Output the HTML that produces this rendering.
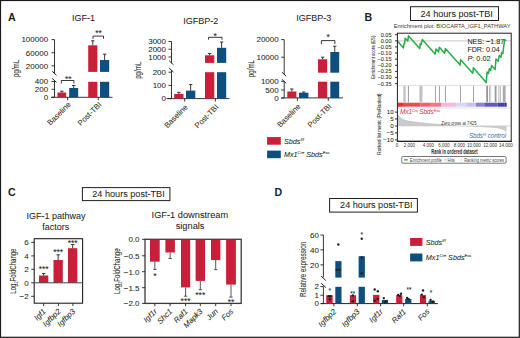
<!DOCTYPE html>
<html><head><meta charset="utf-8"><style>
html,body{margin:0;padding:0;background:#fff;}
#f{position:relative;width:520px;height:338px;overflow:hidden;background:#fff;}
#f svg{position:absolute;left:0;top:0;}
text{font-family:"Liberation Sans",sans-serif;fill:#231f20;stroke:#231f20;stroke-width:0.05px;}
</style></head><body><div id="f">
<svg width="520" height="338" viewBox="0 0 520 338">
<rect x="0.5" y="0.5" width="518.8" height="336.8" fill="none" stroke="#1a1a1a" stroke-width="1.2"/>
<text x="83.4" y="21.3" font-size="9" text-anchor="middle">IGF-1</text>
<line x1="54.5" y1="39.6" x2="54.5" y2="73.3" stroke="#231f20" stroke-width="0.9"/>
<line x1="54.5" y1="80.4" x2="54.5" y2="97.3" stroke="#231f20" stroke-width="0.9"/>
<line x1="52.2" y1="71.3" x2="56.5" y2="75.3" stroke="#231f20" stroke-width="1.0"/>
<line x1="52.2" y1="78.4" x2="56.5" y2="82.4" stroke="#231f20" stroke-width="1.0"/>
<line x1="51.5" y1="39.6" x2="54.5" y2="39.6" stroke="#231f20" stroke-width="0.9"/>
<text x="48.1" y="42.48" font-size="8" text-anchor="end">100000</text>
<line x1="51.5" y1="52.7" x2="54.5" y2="52.7" stroke="#231f20" stroke-width="0.9"/>
<text x="48.1" y="55.58" font-size="8" text-anchor="end">60000</text>
<line x1="51.5" y1="65.8" x2="54.5" y2="65.8" stroke="#231f20" stroke-width="0.9"/>
<text x="48.1" y="68.68" font-size="8" text-anchor="end">20000</text>
<line x1="51.5" y1="81.5" x2="54.5" y2="81.5" stroke="#231f20" stroke-width="0.9"/>
<text x="48.1" y="84.38" font-size="8" text-anchor="end">400</text>
<line x1="51.5" y1="89.3" x2="54.5" y2="89.3" stroke="#231f20" stroke-width="0.9"/>
<text x="48.1" y="92.18" font-size="8" text-anchor="end">200</text>
<line x1="51.5" y1="97.3" x2="54.5" y2="97.3" stroke="#231f20" stroke-width="0.9"/>
<text x="48.1" y="100.18" font-size="8" text-anchor="end">0</text>
<line x1="51" y1="97.3" x2="112.5" y2="97.3" stroke="#231f20" stroke-width="0.9"/>
<rect x="57.5" y="92.5" width="8.7" height="4.8" fill="#c8203a"/>
<line x1="61.85" y1="92.5" x2="61.85" y2="91.2" stroke="#231f20" stroke-width="0.9"/>
<line x1="60.15" y1="91.2" x2="63.55" y2="91.2" stroke="#231f20" stroke-width="0.9"/>
<rect x="69.2" y="88" width="9.0" height="9.3" fill="#0f4f7f"/>
<line x1="73.7" y1="88" x2="73.7" y2="85.5" stroke="#231f20" stroke-width="0.9"/>
<line x1="72.0" y1="85.5" x2="75.4" y2="85.5" stroke="#231f20" stroke-width="0.9"/>
<rect x="88.2" y="45.3" width="9.2" height="26.6" fill="#c8203a"/>
<rect x="88.2" y="81.8" width="9.2" height="15.5" fill="#c8203a"/>
<line x1="92.8" y1="45.3" x2="92.8" y2="40.8" stroke="#231f20" stroke-width="0.9"/>
<line x1="91.1" y1="40.8" x2="94.5" y2="40.8" stroke="#231f20" stroke-width="0.9"/>
<rect x="100" y="60" width="9.2" height="11.9" fill="#0f4f7f"/>
<rect x="100" y="81.8" width="9.2" height="15.5" fill="#0f4f7f"/>
<line x1="104.6" y1="60" x2="104.6" y2="54.2" stroke="#231f20" stroke-width="0.9"/>
<line x1="102.9" y1="54.2" x2="106.3" y2="54.2" stroke="#231f20" stroke-width="0.9"/>
<path d="M93,38.8 V36.1 H103.5 V38.8" fill="none" stroke="#231f20" stroke-width="0.9"/>
<text x="98.55" y="36.19" font-size="8.6" text-anchor="middle">**</text>
<path d="M61.3,83.5 V80.5 H73.9 V83.5" fill="none" stroke="#231f20" stroke-width="0.9"/>
<text x="68.3" y="81.79" font-size="8.6" text-anchor="middle">**</text>
<line x1="67.6" y1="97.3" x2="67.6" y2="100.3" stroke="#231f20" stroke-width="0.9"/>
<text transform="translate(71.2,105.0) rotate(-45)" font-size="7.7" text-anchor="end">Baseline</text>
<line x1="98.3" y1="97.3" x2="98.3" y2="100.3" stroke="#231f20" stroke-width="0.9"/>
<text transform="translate(101.9,105.0) rotate(-45)" font-size="7.7" text-anchor="end">Post-TBI</text>
<text transform="translate(19.3,68.4) rotate(-90)" font-size="8.3" text-anchor="middle" textLength="17.3" lengthAdjust="spacingAndGlyphs">pg/mL</text>
<text x="200.7" y="24.2" font-size="9" text-anchor="middle">IGFBP-2</text>
<line x1="171.5" y1="41.5" x2="171.5" y2="62.8" stroke="#231f20" stroke-width="0.9"/>
<line x1="171.5" y1="70.2" x2="171.5" y2="98.6" stroke="#231f20" stroke-width="0.9"/>
<line x1="169.2" y1="60.8" x2="173.5" y2="64.8" stroke="#231f20" stroke-width="1.0"/>
<line x1="169.2" y1="68.1" x2="173.5" y2="72.1" stroke="#231f20" stroke-width="1.0"/>
<line x1="168.5" y1="41.5" x2="171.5" y2="41.5" stroke="#231f20" stroke-width="0.9"/>
<text x="166.0" y="44.38" font-size="8" text-anchor="end">3000</text>
<line x1="168.5" y1="49.2" x2="171.5" y2="49.2" stroke="#231f20" stroke-width="0.9"/>
<text x="166.0" y="52.08" font-size="8" text-anchor="end">2000</text>
<line x1="168.5" y1="57" x2="171.5" y2="57" stroke="#231f20" stroke-width="0.9"/>
<text x="166.0" y="59.88" font-size="8" text-anchor="end">1000</text>
<line x1="168.5" y1="72.2" x2="171.5" y2="72.2" stroke="#231f20" stroke-width="0.9"/>
<text x="166.0" y="75.08" font-size="8" text-anchor="end">200</text>
<line x1="168.5" y1="85.4" x2="171.5" y2="85.4" stroke="#231f20" stroke-width="0.9"/>
<text x="166.0" y="88.28" font-size="8" text-anchor="end">100</text>
<line x1="168.5" y1="98.6" x2="171.5" y2="98.6" stroke="#231f20" stroke-width="0.9"/>
<text x="166.0" y="101.48" font-size="8" text-anchor="end">0</text>
<line x1="166.5" y1="98.6" x2="229.4" y2="98.6" stroke="#231f20" stroke-width="0.9"/>
<rect x="174.2" y="93.9" width="9.3" height="4.7" fill="#c8203a"/>
<line x1="178.85" y1="93.9" x2="178.85" y2="92.3" stroke="#231f20" stroke-width="0.9"/>
<line x1="177.15" y1="92.3" x2="180.55" y2="92.3" stroke="#231f20" stroke-width="0.9"/>
<rect x="186" y="90.6" width="9.3" height="8.0" fill="#0f4f7f"/>
<line x1="190.65" y1="90.6" x2="190.65" y2="84.6" stroke="#231f20" stroke-width="0.9"/>
<line x1="188.95" y1="84.6" x2="192.35" y2="84.6" stroke="#231f20" stroke-width="0.9"/>
<rect x="205" y="55.3" width="9.3" height="7.6" fill="#c8203a"/>
<rect x="205" y="72.2" width="9.3" height="26.4" fill="#c8203a"/>
<line x1="209.65" y1="55.3" x2="209.65" y2="53.5" stroke="#231f20" stroke-width="0.9"/>
<line x1="207.95" y1="53.5" x2="211.35" y2="53.5" stroke="#231f20" stroke-width="0.9"/>
<rect x="217" y="47.8" width="9.2" height="15.1" fill="#0f4f7f"/>
<rect x="217" y="72.2" width="9.2" height="26.4" fill="#0f4f7f"/>
<line x1="221.6" y1="47.8" x2="221.6" y2="42" stroke="#231f20" stroke-width="0.9"/>
<line x1="219.9" y1="42" x2="223.3" y2="42" stroke="#231f20" stroke-width="0.9"/>
<path d="M208.5,39.6 V37.3 H222 V39.6" fill="none" stroke="#231f20" stroke-width="0.9"/>
<text x="215.25" y="38.79" font-size="8.6" text-anchor="middle">*</text>
<line x1="184.7" y1="98.6" x2="184.7" y2="101.6" stroke="#231f20" stroke-width="0.9"/>
<text transform="translate(188.3,107.6) rotate(-45)" font-size="7.7" text-anchor="end">Baseline</text>
<line x1="215.4" y1="98.6" x2="215.4" y2="101.6" stroke="#231f20" stroke-width="0.9"/>
<text transform="translate(219.0,107.6) rotate(-45)" font-size="7.7" text-anchor="end">Post-TBI</text>
<text transform="translate(141.3,70.2) rotate(-90)" font-size="8.3" text-anchor="middle" textLength="17.3" lengthAdjust="spacingAndGlyphs">pg/mL</text>
<text x="313.7" y="21.4" font-size="9" text-anchor="middle">IGFBP-3</text>
<line x1="284.2" y1="39.6" x2="284.2" y2="74.3" stroke="#231f20" stroke-width="0.9"/>
<line x1="284.2" y1="81.3" x2="284.2" y2="97.9" stroke="#231f20" stroke-width="0.9"/>
<line x1="281.9" y1="72.2" x2="286.2" y2="76.2" stroke="#231f20" stroke-width="1.0"/>
<line x1="281.9" y1="79.3" x2="286.2" y2="83.3" stroke="#231f20" stroke-width="1.0"/>
<line x1="281.2" y1="39.6" x2="284.2" y2="39.6" stroke="#231f20" stroke-width="0.9"/>
<text x="278.7" y="42.48" font-size="8" text-anchor="end">20000</text>
<line x1="281.2" y1="57.2" x2="284.2" y2="57.2" stroke="#231f20" stroke-width="0.9"/>
<text x="278.7" y="60.08" font-size="8" text-anchor="end">10000</text>
<line x1="281.2" y1="81.3" x2="284.2" y2="81.3" stroke="#231f20" stroke-width="0.9"/>
<text x="278.7" y="84.18" font-size="8" text-anchor="end">1000</text>
<line x1="281.2" y1="90" x2="284.2" y2="90" stroke="#231f20" stroke-width="0.9"/>
<text x="278.7" y="92.88" font-size="8" text-anchor="end">500</text>
<line x1="281.2" y1="98.1" x2="284.2" y2="98.1" stroke="#231f20" stroke-width="0.9"/>
<text x="278.7" y="100.98" font-size="8" text-anchor="end">0</text>
<line x1="281.2" y1="97.9" x2="343" y2="97.9" stroke="#231f20" stroke-width="0.9"/>
<rect x="287.3" y="91.5" width="9.1" height="6.6" fill="#c8203a"/>
<line x1="291.85" y1="91.5" x2="291.85" y2="89" stroke="#231f20" stroke-width="0.9"/>
<line x1="290.15" y1="89" x2="293.55" y2="89" stroke="#231f20" stroke-width="0.9"/>
<rect x="299" y="92.7" width="9.4" height="5.4" fill="#0f4f7f"/>
<line x1="303.7" y1="92.7" x2="303.7" y2="92" stroke="#231f20" stroke-width="0.9"/>
<line x1="302.0" y1="92" x2="305.4" y2="92" stroke="#231f20" stroke-width="0.9"/>
<rect x="318" y="59.3" width="9.2" height="13.4" fill="#c8203a"/>
<rect x="318" y="81.7" width="9.2" height="16.4" fill="#c8203a"/>
<line x1="322.6" y1="59.3" x2="322.6" y2="57.2" stroke="#231f20" stroke-width="0.9"/>
<line x1="320.9" y1="57.2" x2="324.3" y2="57.2" stroke="#231f20" stroke-width="0.9"/>
<rect x="330.3" y="52" width="8.9" height="20.7" fill="#0f4f7f"/>
<rect x="330.3" y="81.7" width="8.9" height="16.4" fill="#0f4f7f"/>
<line x1="334.75" y1="52" x2="334.75" y2="46.2" stroke="#231f20" stroke-width="0.9"/>
<line x1="333.05" y1="46.2" x2="336.45" y2="46.2" stroke="#231f20" stroke-width="0.9"/>
<path d="M321.4,44 V40.6 H334.9 V44" fill="none" stroke="#231f20" stroke-width="0.9"/>
<text x="328.15" y="39.79" font-size="8.6" text-anchor="middle">*</text>
<line x1="297.4" y1="97.9" x2="297.4" y2="100.9" stroke="#231f20" stroke-width="0.9"/>
<text transform="translate(301.0,106.9) rotate(-45)" font-size="7.7" text-anchor="end">Baseline</text>
<line x1="328.3" y1="97.9" x2="328.3" y2="100.9" stroke="#231f20" stroke-width="0.9"/>
<text transform="translate(331.9,106.9) rotate(-45)" font-size="7.7" text-anchor="end">Post-TBI</text>
<text transform="translate(253.5,68.6) rotate(-90)" font-size="8.3" text-anchor="middle" textLength="17.3" lengthAdjust="spacingAndGlyphs">pg/mL</text>
<rect x="267.1" y="137.1" width="13.7" height="7.6" fill="#c8203a"/>
<rect x="267.1" y="150.6" width="13.7" height="7.6" fill="#0f4f7f"/>
<text x="284" y="144.2" font-size="7.2" font-style="italic">Sbds<tspan font-size="4.18" dy="-2.8">f/f</tspan></text>
<text x="284" y="156.8" font-size="7.2" font-style="italic">Mx1<tspan font-size="4.18" dy="-2.8">Cre</tspan><tspan dy="2.8"> Sbds</tspan><tspan font-size="4.18" dy="-2.8">Exc</tspan></text>
<text x="7.9" y="21.1" font-size="10.6" font-weight="bold" stroke="#231f20" stroke-width="0.35">A</text>
<text x="364.5" y="20.9" font-size="10.6" font-weight="bold" stroke="#231f20" stroke-width="0.35">B</text>
<text x="7.9" y="196.3" font-size="10.6" font-weight="bold" stroke="#231f20" stroke-width="0.35">C</text>
<text x="274.6" y="196.4" font-size="10.6" font-weight="bold" stroke="#231f20" stroke-width="0.35">D</text>
<rect x="410.5" y="6.7" width="88.0" height="13.8" fill="none" stroke="#231f20" stroke-width="1"/>
<text x="420.5" y="17.1" font-size="9.2" textLength="72.4" lengthAdjust="spacingAndGlyphs">24 hours post-TBI</text>
<rect x="82.4" y="187.6" width="87.5" height="13.0" fill="none" stroke="#231f20" stroke-width="1"/>
<text x="92.3" y="197.3" font-size="9.2" textLength="72.4" lengthAdjust="spacingAndGlyphs">24 hours post-TBI</text>
<rect x="329.6" y="198.5" width="87.8" height="13.6" fill="none" stroke="#231f20" stroke-width="1"/>
<text x="340.1" y="208.3" font-size="9.2" textLength="72.4" lengthAdjust="spacingAndGlyphs">24 hours post-TBI</text>
<text x="393.7" y="28.4" font-size="5.9" textLength="116.8" lengthAdjust="spacingAndGlyphs" style="fill:#3a3a3a;stroke:none">Enrichment plot: BIOCARTA_IGF1_PATHWAY</text>
<line x1="397.4" y1="40.8" x2="511.2" y2="40.8" stroke="#d4d4d4" stroke-width="1.2"/>
<line x1="397.4" y1="85.4" x2="511.2" y2="85.4" stroke="#d8d8d8" stroke-width="0.8"/>
<line x1="397.4" y1="108" x2="511.2" y2="108" stroke="#d8d8d8" stroke-width="0.8"/>
<rect x="403.3" y="85.8" width="2.4" height="16.4" fill="#c4c4c4"/>
<rect x="407.9" y="85.8" width="1.0" height="16.4" fill="#9a9a9a"/>
<rect x="419.2" y="85.8" width="3.4" height="16.4" fill="#d0d0d0"/>
<rect x="420.3" y="85.8" width="1.2" height="16.4" fill="#b8b8b8"/>
<rect x="434.95" y="85.8" width="0.9" height="16.4" fill="#999"/>
<rect x="438.95" y="85.8" width="0.9" height="16.4" fill="#999"/>
<rect x="444.95" y="85.8" width="0.9" height="16.4" fill="#999"/>
<rect x="459.95" y="85.8" width="0.9" height="16.4" fill="#999"/>
<rect x="473.05" y="85.8" width="0.9" height="16.4" fill="#999"/>
<rect x="486.3" y="85.8" width="1.6" height="16.4" fill="#8a8a8a"/>
<rect x="489.15" y="85.8" width="0.9" height="16.4" fill="#aaa"/>
<rect x="490.35" y="85.8" width="0.9" height="16.4" fill="#ccc"/>
<rect x="494.7" y="85.8" width="1.8" height="16.4" fill="#999"/>
<rect x="498.1" y="85.8" width="1.0" height="16.4" fill="#ccc"/>
<rect x="499.7" y="85.8" width="1.0" height="16.4" fill="#aaa"/>
<rect x="502.8" y="85.8" width="2.8" height="16.4" fill="#aaa"/>
<rect x="397.6" y="102.7" width="5.45" height="4.0" fill="#ee2a32"/>
<rect x="403" y="102.7" width="17.25" height="4.0" fill="#ec4a54"/>
<rect x="420.2" y="102.7" width="9.75" height="4.0" fill="#ec6276"/>
<rect x="429.9" y="102.7" width="11.35" height="4.0" fill="#f07a80"/>
<rect x="441.2" y="102.7" width="14.95" height="4.0" fill="#f4b8d8"/>
<rect x="456.1" y="102.7" width="10.45" height="4.0" fill="#dad6f0"/>
<rect x="466.5" y="102.7" width="9.45" height="4.0" fill="#c8c2e8"/>
<rect x="475.9" y="102.7" width="8.45" height="4.0" fill="#8686cc"/>
<rect x="484.3" y="102.7" width="13.45" height="4.0" fill="#6458b8"/>
<rect x="497.7" y="102.7" width="7.05" height="4.0" fill="#4242a8"/>
<rect x="504.7" y="102.7" width="1.95" height="4.0" fill="#30309c"/>
<line x1="397.4" y1="125.9" x2="511.2" y2="125.9" stroke="#cfcfcf" stroke-width="0.8"/>
<path d="M397.6,125.9 V113.4 C398.8,117.6 402,120.2 410,121.4 C420,122.9 438,124.5 456,125.9 Z" fill="#c9cacc"/>
<path d="M397.6,113.4 C398.8,117.6 402,120.2 410,121.4 C420,122.9 438,124.5 456,125.9" fill="none" stroke="#a8a8a8" stroke-width="0.5"/>
<path d="M456,125.9 C474,126.4 488,127 496,128.1 C501,128.9 504.5,130.2 506.5,132 V125.9 Z" fill="#c9cacc"/>
<polyline points="397.5,41.0 403.4,48 404.2,43 404.6,43.6 405.2,38.2 407.8,40.9 408.4,35.8 419.7,48.6 420.3,43.5 421.1,44.7 422.3,39.6 435.1,54 436,49 438.6,52 439.4,47.2 444.6,53.2 445.4,48.4 460.1,65.1 460.6,59.8 472.8,73.3 473.3,67.8 486.2,82.6 487.1,71.9 488.4,73.6 489.3,68.8 490.7,70.5 491.5,65.6 495.1,69.6 496,59 498.2,61.2 499.3,55.5 500.9,57.3 501.7,52.3 502.8,53.8 504.6,39.6 506.3,40.6" fill="none" stroke="#2aaa48" stroke-width="1.5" stroke-linejoin="round"/>
<rect x="397.4" y="33.2" width="113.8" height="108.2" fill="none" stroke="#231f20" stroke-width="1"/>
<line x1="396.9" y1="141.4" x2="511.7" y2="141.4" stroke="#231f20" stroke-width="1.4"/>
<line x1="395.0" y1="34.7" x2="397.4" y2="34.7" stroke="#231f20" stroke-width="0.9"/>
<text x="391.6" y="36.7" font-size="5.6" text-anchor="end">0.05</text>
<line x1="395.0" y1="40.81" x2="397.4" y2="40.81" stroke="#231f20" stroke-width="0.9"/>
<text x="391.6" y="42.81" font-size="5.6" text-anchor="end">0.00</text>
<line x1="395.0" y1="46.92" x2="397.4" y2="46.92" stroke="#231f20" stroke-width="0.9"/>
<text x="391.6" y="48.92" font-size="5.6" text-anchor="end">−0.05</text>
<line x1="395.0" y1="53.03" x2="397.4" y2="53.03" stroke="#231f20" stroke-width="0.9"/>
<text x="391.6" y="55.03" font-size="5.6" text-anchor="end">−0.10</text>
<line x1="395.0" y1="59.14" x2="397.4" y2="59.14" stroke="#231f20" stroke-width="0.9"/>
<text x="391.6" y="61.14" font-size="5.6" text-anchor="end">−0.15</text>
<line x1="395.0" y1="65.25" x2="397.4" y2="65.25" stroke="#231f20" stroke-width="0.9"/>
<text x="391.6" y="67.25" font-size="5.6" text-anchor="end">−0.20</text>
<line x1="395.0" y1="71.36" x2="397.4" y2="71.36" stroke="#231f20" stroke-width="0.9"/>
<text x="391.6" y="73.36" font-size="5.6" text-anchor="end">−0.25</text>
<line x1="395.0" y1="77.47" x2="397.4" y2="77.47" stroke="#231f20" stroke-width="0.9"/>
<text x="391.6" y="79.47" font-size="5.6" text-anchor="end">−0.30</text>
<line x1="395.0" y1="83.58" x2="397.4" y2="83.58" stroke="#231f20" stroke-width="0.9"/>
<text x="391.6" y="85.58" font-size="5.6" text-anchor="end">−0.35</text>
<line x1="395.0" y1="112.1" x2="397.4" y2="112.1" stroke="#231f20" stroke-width="0.9"/>
<text x="393.6" y="114.3" font-size="6.2" text-anchor="end">10</text>
<line x1="395.0" y1="119.0" x2="397.4" y2="119.0" stroke="#231f20" stroke-width="0.9"/>
<text x="393.6" y="121.2" font-size="6.2" text-anchor="end">5</text>
<line x1="395.0" y1="126.0" x2="397.4" y2="126.0" stroke="#231f20" stroke-width="0.9"/>
<text x="393.6" y="128.2" font-size="6.2" text-anchor="end">0</text>
<line x1="395.0" y1="132.9" x2="397.4" y2="132.9" stroke="#231f20" stroke-width="0.9"/>
<text x="393.6" y="135.1" font-size="6.2" text-anchor="end">−5</text>
<line x1="395.0" y1="139.9" x2="397.4" y2="139.9" stroke="#231f20" stroke-width="0.9"/>
<text x="393.6" y="142.1" font-size="6.2" text-anchor="end">−10</text>
<text x="396.9" y="147.4" font-size="4.5" text-anchor="middle" style="fill:#333;stroke:none">0</text>
<text x="409.5" y="147.4" font-size="4.5" text-anchor="middle" style="fill:#333;stroke:none">2,000</text>
<text x="428.4" y="147.4" font-size="4.5" text-anchor="middle" style="fill:#333;stroke:none">4,000</text>
<text x="443.8" y="147.4" font-size="4.5" text-anchor="middle" style="fill:#333;stroke:none">6,000</text>
<text x="459.3" y="147.4" font-size="4.5" text-anchor="middle" style="fill:#333;stroke:none">8,000</text>
<text x="474" y="147.4" font-size="4.5" text-anchor="middle" style="fill:#333;stroke:none">10,000</text>
<text x="490.2" y="147.4" font-size="4.5" text-anchor="middle" style="fill:#333;stroke:none">12,000</text>
<text x="505.9" y="147.4" font-size="4.5" text-anchor="middle" style="fill:#333;stroke:none">14,000</text>
<text x="431.3" y="153.7" font-size="7.0" textLength="46.3" lengthAdjust="spacingAndGlyphs" font-weight="bold" style="fill:#2a2a2a;stroke:none">Rank in ordered dataset</text>
<rect x="401.7" y="156.5" width="104.4" height="6.7" rx="1.2" fill="none" stroke="#555" stroke-width="0.8"/>
<rect x="404" y="159.2" width="3.8" height="1.3" fill="#22aa44"/>
<text x="410.1" y="161.6" font-size="5.2" textLength="31.7" lengthAdjust="spacingAndGlyphs" style="fill:#444;stroke:none">Enrichment profile</text>
<line x1="444" y1="159.9" x2="446.4" y2="159.9" stroke="#999" stroke-width="0.8"/>
<text x="447.6" y="161.6" font-size="5.2" textLength="7.4" lengthAdjust="spacingAndGlyphs" style="fill:#444;stroke:none">Hits</text>
<line x1="460.2" y1="159.9" x2="462.5" y2="159.9" stroke="#ccc" stroke-width="0.8"/>
<text x="464.2" y="161.6" font-size="5.2" textLength="39.8" lengthAdjust="spacingAndGlyphs" style="fill:#444;stroke:none">Ranking metric scores</text>
<text x="467.4" y="43.6" font-size="7.2" textLength="36.8" lengthAdjust="spacingAndGlyphs">NES: −1.87</text>
<text x="467.4" y="52.1" font-size="7.2" textLength="32.4" lengthAdjust="spacingAndGlyphs">FDR: 0.04</text>
<text x="467.4" y="60.6" font-size="7.2" textLength="23.2" lengthAdjust="spacingAndGlyphs"><tspan font-style="italic">P</tspan>: 0.02</text>
<text x="400" y="113.9" font-size="6.4" font-style="italic" style="fill:#d42d44;stroke:none">Mx1<tspan font-size="3.8" dy="-2.4">Cre</tspan><tspan dy="2.4" dx="-0.8"> Sbds</tspan><tspan font-size="3.8" dy="-2.4">Exc</tspan></text>
<text x="441.3" y="124.6" font-size="4.9" textLength="35.2" lengthAdjust="spacingAndGlyphs" style="fill:#333;stroke:none">Zero cross at 7425</text>
<text x="468.9" y="138.3" font-size="7.0" font-style="italic" textLength="37.2" lengthAdjust="spacingAndGlyphs" style="fill:#3a6ea5;stroke:none">Sbds<tspan font-size="4.2" dy="-2.7">f/f</tspan><tspan dy="2.7"> control</tspan></text>
<text transform="translate(374.6,57.25) rotate(-90)" font-size="5.6" text-anchor="middle" textLength="43.1" lengthAdjust="spacingAndGlyphs">Enrichment score (ES)</text>
<text transform="translate(380.6,124.1) rotate(-90)" font-size="6.2" text-anchor="middle" textLength="61.3" lengthAdjust="spacingAndGlyphs">Ranked list metric (PreRanked)</text>
<text x="56" y="219.4" font-size="9" text-anchor="middle">IGF-1 pathway</text>
<text x="55.8" y="230.4" font-size="9" text-anchor="middle">factors</text>
<text x="189.9" y="218.0" font-size="9.25" text-anchor="middle">IGF-1 downstream</text>
<text x="190.1" y="229.4" font-size="9.25" text-anchor="middle">signals</text>
<rect x="34.2" y="238.7" width="48.4" height="64.5" fill="none" stroke="#231f20" stroke-width="1.1"/>
<line x1="31.2" y1="242.4" x2="34.2" y2="242.4" stroke="#231f20" stroke-width="0.9"/>
<text x="28.7" y="245.28" font-size="8" text-anchor="end">6</text>
<line x1="31.2" y1="255.9" x2="34.2" y2="255.9" stroke="#231f20" stroke-width="0.9"/>
<text x="28.7" y="258.78" font-size="8" text-anchor="end">4</text>
<line x1="31.2" y1="269.3" x2="34.2" y2="269.3" stroke="#231f20" stroke-width="0.9"/>
<text x="28.7" y="272.18" font-size="8" text-anchor="end">2</text>
<line x1="31.2" y1="282.8" x2="34.2" y2="282.8" stroke="#231f20" stroke-width="0.9"/>
<text x="28.7" y="285.68" font-size="8" text-anchor="end">0</text>
<line x1="31.2" y1="296.3" x2="34.2" y2="296.3" stroke="#231f20" stroke-width="0.9"/>
<text x="28.7" y="299.18" font-size="8" text-anchor="end">−2</text>
<rect x="39" y="275.5" width="9.3" height="7.3" fill="#c8203a"/>
<line x1="43.65" y1="275.5" x2="43.65" y2="273.5" stroke="#231f20" stroke-width="0.9"/>
<line x1="41.95" y1="273.5" x2="45.35" y2="273.5" stroke="#231f20" stroke-width="0.9"/>
<text x="43.65" y="271.89" font-size="8.6" text-anchor="middle">***</text>
<rect x="53.5" y="260" width="9.3" height="22.8" fill="#c8203a"/>
<line x1="58.15" y1="260" x2="58.15" y2="254.8" stroke="#231f20" stroke-width="0.9"/>
<line x1="56.45" y1="254.8" x2="59.85" y2="254.8" stroke="#231f20" stroke-width="0.9"/>
<text x="58.15" y="255.49" font-size="8.6" text-anchor="middle">***</text>
<rect x="68" y="248.2" width="9.3" height="34.6" fill="#c8203a"/>
<line x1="72.65" y1="248.2" x2="72.65" y2="244.5" stroke="#231f20" stroke-width="0.9"/>
<line x1="70.95" y1="244.5" x2="74.35" y2="244.5" stroke="#231f20" stroke-width="0.9"/>
<text x="72.65" y="245.59" font-size="8.6" text-anchor="middle">***</text>
<line x1="34.2" y1="282.8" x2="82.6" y2="282.8" stroke="#444" stroke-width="1.0"/>
<line x1="43.6" y1="303.2" x2="43.6" y2="306" stroke="#231f20" stroke-width="0.9"/>
<text transform="translate(46.4,311.9) rotate(-45)" font-size="7.8" text-anchor="end" font-style="italic">Igf1</text>
<line x1="58.4" y1="303.2" x2="58.4" y2="306" stroke="#231f20" stroke-width="0.9"/>
<text transform="translate(61.2,311.9) rotate(-45)" font-size="7.8" text-anchor="end" font-style="italic">Igfbp2</text>
<line x1="72.9" y1="303.2" x2="72.9" y2="306" stroke="#231f20" stroke-width="0.9"/>
<text transform="translate(75.7,311.9) rotate(-45)" font-size="7.8" text-anchor="end" font-style="italic">Igfbp3</text>
<text transform="translate(15.9,271.1) rotate(-90)" font-size="8.3" text-anchor="middle" textLength="45.2" lengthAdjust="spacingAndGlyphs">Log<tspan font-size="5.2" dy="2.2">2</tspan><tspan dy="-2.2">FoldChange</tspan></text>
<rect x="145" y="239.3" width="96.2" height="64.1" fill="none" stroke="#3a3a3a" stroke-width="1.3"/>
<line x1="142.0" y1="239.3" x2="145" y2="239.3" stroke="#231f20" stroke-width="0.9"/>
<text x="139.5" y="242.18" font-size="8" text-anchor="end">0.0</text>
<line x1="142.0" y1="255.8" x2="145" y2="255.8" stroke="#231f20" stroke-width="0.9"/>
<text x="139.5" y="258.68" font-size="8" text-anchor="end">−0.5</text>
<line x1="142.0" y1="271.7" x2="145" y2="271.7" stroke="#231f20" stroke-width="0.9"/>
<text x="139.5" y="274.58" font-size="8" text-anchor="end">−1.0</text>
<line x1="142.0" y1="287.7" x2="145" y2="287.7" stroke="#231f20" stroke-width="0.9"/>
<text x="139.5" y="290.58" font-size="8" text-anchor="end">−1.5</text>
<line x1="142.0" y1="303.4" x2="145" y2="303.4" stroke="#231f20" stroke-width="0.9"/>
<text x="139.5" y="306.28" font-size="8" text-anchor="end">−2.0</text>
<rect x="150" y="239.8" width="9.7" height="21.9" fill="#c8203a"/>
<line x1="154.85" y1="261.7" x2="154.85" y2="269.4" stroke="#444" stroke-width="0.9"/>
<line x1="153.15" y1="269.4" x2="156.55" y2="269.4" stroke="#444" stroke-width="0.9"/>
<text x="154.85" y="279.29" font-size="8.6" text-anchor="middle">*</text>
<rect x="165.4" y="239.8" width="9.5" height="12.7" fill="#c8203a"/>
<line x1="170.15" y1="252.5" x2="170.15" y2="258.5" stroke="#444" stroke-width="0.9"/>
<line x1="168.45" y1="258.5" x2="171.85" y2="258.5" stroke="#444" stroke-width="0.9"/>
<rect x="181" y="239.8" width="9.2" height="47.6" fill="#c8203a"/>
<line x1="185.6" y1="287.4" x2="185.6" y2="296.2" stroke="#444" stroke-width="0.9"/>
<line x1="183.9" y1="296.2" x2="187.3" y2="296.2" stroke="#444" stroke-width="0.9"/>
<text x="185.6" y="304.19" font-size="8.6" text-anchor="middle">***</text>
<rect x="195.6" y="239.8" width="9.4" height="41.1" fill="#c8203a"/>
<line x1="200.3" y1="280.9" x2="200.3" y2="289.7" stroke="#444" stroke-width="0.9"/>
<line x1="198.6" y1="289.7" x2="202.0" y2="289.7" stroke="#444" stroke-width="0.9"/>
<text x="200.3" y="298.29" font-size="8.6" text-anchor="middle">***</text>
<rect x="211" y="239.8" width="9.4" height="20.3" fill="#c8203a"/>
<line x1="215.7" y1="260.1" x2="215.7" y2="269.6" stroke="#444" stroke-width="0.9"/>
<line x1="214.0" y1="269.6" x2="217.4" y2="269.6" stroke="#444" stroke-width="0.9"/>
<rect x="226.1" y="239.8" width="9.8" height="44.8" fill="#c8203a"/>
<line x1="231.0" y1="284.6" x2="231.0" y2="297.1" stroke="#444" stroke-width="0.9"/>
<line x1="229.3" y1="297.1" x2="232.7" y2="297.1" stroke="#444" stroke-width="0.9"/>
<text x="231.0" y="305.19" font-size="8.6" text-anchor="middle">**</text>
<line x1="154.8" y1="303.4" x2="154.8" y2="306.2" stroke="#231f20" stroke-width="0.9"/>
<text transform="translate(157.6,311.9) rotate(-45)" font-size="7.8" text-anchor="end" font-style="italic">Igf1r</text>
<line x1="170.1" y1="303.4" x2="170.1" y2="306.2" stroke="#231f20" stroke-width="0.9"/>
<text transform="translate(172.9,311.9) rotate(-45)" font-size="7.8" text-anchor="end" font-style="italic">Shc1</text>
<line x1="185.6" y1="303.4" x2="185.6" y2="306.2" stroke="#231f20" stroke-width="0.9"/>
<text transform="translate(188.4,311.9) rotate(-45)" font-size="7.8" text-anchor="end" font-style="italic">Raf1</text>
<line x1="200.3" y1="303.4" x2="200.3" y2="306.2" stroke="#231f20" stroke-width="0.9"/>
<text transform="translate(203.1,311.9) rotate(-45)" font-size="7.8" text-anchor="end" font-style="italic">Mapk3</text>
<line x1="215.7" y1="303.4" x2="215.7" y2="306.2" stroke="#231f20" stroke-width="0.9"/>
<text transform="translate(218.5,311.9) rotate(-45)" font-size="7.8" text-anchor="end" font-style="italic">Jun</text>
<line x1="231" y1="303.4" x2="231" y2="306.2" stroke="#231f20" stroke-width="0.9"/>
<text transform="translate(233.8,311.9) rotate(-45)" font-size="7.8" text-anchor="end" font-style="italic">Fos</text>
<text transform="translate(119.9,271.2) rotate(-90)" font-size="8.3" text-anchor="middle" textLength="45.6" lengthAdjust="spacingAndGlyphs">Log<tspan font-size="5.2" dy="2.2">2</tspan><tspan dy="-2.2">FoldChange</tspan></text>
<line x1="323.4" y1="235" x2="323.4" y2="277.3" stroke="#231f20" stroke-width="0.9"/>
<line x1="323.4" y1="286.5" x2="323.4" y2="303.6" stroke="#231f20" stroke-width="0.9"/>
<line x1="321.1" y1="276.1" x2="325.9" y2="280.6" stroke="#231f20" stroke-width="1.0"/>
<line x1="321.1" y1="283.2" x2="325.9" y2="287.6" stroke="#231f20" stroke-width="1.0"/>
<line x1="320.4" y1="235" x2="323.4" y2="235" stroke="#231f20" stroke-width="0.9"/>
<text x="318.9" y="237.88" font-size="8" text-anchor="end">60</text>
<line x1="320.4" y1="249.9" x2="323.4" y2="249.9" stroke="#231f20" stroke-width="0.9"/>
<text x="318.9" y="252.78" font-size="8" text-anchor="end">40</text>
<line x1="320.4" y1="264.9" x2="323.4" y2="264.9" stroke="#231f20" stroke-width="0.9"/>
<text x="318.9" y="267.78" font-size="8" text-anchor="end">20</text>
<line x1="320.4" y1="286.6" x2="323.4" y2="286.6" stroke="#231f20" stroke-width="0.9"/>
<text x="318.9" y="289.48" font-size="8" text-anchor="end">2</text>
<line x1="320.4" y1="295.2" x2="323.4" y2="295.2" stroke="#231f20" stroke-width="0.9"/>
<text x="318.9" y="298.08" font-size="8" text-anchor="end">1</text>
<line x1="320.4" y1="303.6" x2="323.4" y2="303.6" stroke="#231f20" stroke-width="0.9"/>
<text x="318.9" y="306.48" font-size="8" text-anchor="end">0</text>
<line x1="321" y1="303.6" x2="437.9" y2="303.6" stroke="#231f20" stroke-width="1.0"/>
<rect x="326.2" y="295.2" width="6.5" height="8.4" fill="#c8203a"/>
<rect x="335.3" y="261.1" width="6.2" height="16.5" fill="#0f4f7f"/>
<rect x="335.3" y="286.8" width="6.2" height="16.8" fill="#0f4f7f"/>
<rect x="349.8" y="295.2" width="6.3" height="8.4" fill="#c8203a"/>
<rect x="358.6" y="256.2" width="6.3" height="21.4" fill="#0f4f7f"/>
<rect x="358.6" y="286.8" width="6.3" height="16.8" fill="#0f4f7f"/>
<rect x="373.1" y="294.9" width="6.3" height="8.7" fill="#c8203a"/>
<rect x="381.8" y="299.9" width="6.3" height="3.7" fill="#0f4f7f"/>
<rect x="396.2" y="295.2" width="6.2" height="8.4" fill="#c8203a"/>
<rect x="405.1" y="299" width="6.3" height="4.6" fill="#0f4f7f"/>
<rect x="419.9" y="295.1" width="6.2" height="8.5" fill="#c8203a"/>
<rect x="428.4" y="301.1" width="6.4" height="2.5" fill="#0f4f7f"/>
<circle cx="328.9" cy="296.2" r="1.2" fill="#231f20"/>
<circle cx="330.7" cy="296.2" r="1.2" fill="#231f20"/>
<circle cx="329.8" cy="299.4" r="1.2" fill="#231f20"/>
<circle cx="338.3" cy="244.5" r="1.2" fill="#231f20"/>
<circle cx="336.7" cy="269.7" r="1.2" fill="#231f20"/>
<circle cx="339.6" cy="269.7" r="1.2" fill="#231f20"/>
<circle cx="352.8" cy="295.5" r="1.2" fill="#231f20"/>
<circle cx="352.8" cy="301.2" r="1.2" fill="#231f20"/>
<circle cx="361.7" cy="238.8" r="1.2" fill="#231f20"/>
<circle cx="361.7" cy="257.5" r="1.2" fill="#231f20"/>
<circle cx="361.7" cy="273.3" r="1.2" fill="#231f20"/>
<circle cx="374.7" cy="289.5" r="1.2" fill="#231f20"/>
<circle cx="377.8" cy="291.2" r="1.2" fill="#231f20"/>
<circle cx="374.8" cy="300.6" r="1.2" fill="#231f20"/>
<circle cx="377.8" cy="299" r="1.2" fill="#231f20"/>
<circle cx="383.8" cy="298.1" r="1.2" fill="#231f20"/>
<circle cx="385.9" cy="301.2" r="1.2" fill="#231f20"/>
<circle cx="384.9" cy="302.6" r="1.2" fill="#231f20"/>
<circle cx="398" cy="294.9" r="1.2" fill="#231f20"/>
<circle cx="399.7" cy="295.9" r="1.2" fill="#231f20"/>
<circle cx="401" cy="293.8" r="1.2" fill="#231f20"/>
<circle cx="407.1" cy="297.9" r="1.2" fill="#231f20"/>
<circle cx="408.7" cy="299.2" r="1.2" fill="#231f20"/>
<circle cx="423" cy="290.5" r="1.2" fill="#231f20"/>
<circle cx="421.7" cy="294.6" r="1.2" fill="#231f20"/>
<circle cx="423.7" cy="297.3" r="1.2" fill="#231f20"/>
<circle cx="430.6" cy="300" r="1.2" fill="#231f20"/>
<circle cx="432.6" cy="301.7" r="1.2" fill="#231f20"/>
<circle cx="433.5" cy="301.7" r="1.2" fill="#231f20"/>
<text x="329.8" y="292.77" font-size="6.5" text-anchor="middle">*</text>
<text x="352.8" y="295.97" font-size="6.5" text-anchor="middle">**</text>
<text x="361.7" y="236.77" font-size="6.5" text-anchor="middle">*</text>
<text x="409.1" y="292.37" font-size="6.5" text-anchor="middle">**</text>
<text x="431" y="295.07" font-size="6.5" text-anchor="middle">*</text>
<line x1="333.9" y1="303.6" x2="333.9" y2="306.3" stroke="#231f20" stroke-width="0.9"/>
<text transform="translate(336.7,312.1) rotate(-45)" font-size="7.8" text-anchor="end" font-style="italic">Igfbp2</text>
<line x1="357.3" y1="303.6" x2="357.3" y2="306.3" stroke="#231f20" stroke-width="0.9"/>
<text transform="translate(360.1,312.1) rotate(-45)" font-size="7.8" text-anchor="end" font-style="italic">Igfbp3</text>
<line x1="380.6" y1="303.6" x2="380.6" y2="306.3" stroke="#231f20" stroke-width="0.9"/>
<text transform="translate(383.4,312.1) rotate(-45)" font-size="7.8" text-anchor="end" font-style="italic">Igf1r</text>
<line x1="403.7" y1="303.6" x2="403.7" y2="306.3" stroke="#231f20" stroke-width="0.9"/>
<text transform="translate(406.5,312.1) rotate(-45)" font-size="7.8" text-anchor="end" font-style="italic">Raf1</text>
<line x1="427.3" y1="303.6" x2="427.3" y2="306.3" stroke="#231f20" stroke-width="0.9"/>
<text transform="translate(430.1,312.1) rotate(-45)" font-size="7.8" text-anchor="end" font-style="italic">Fos</text>
<text transform="translate(306.0,269.3) rotate(-90)" font-size="8.5" text-anchor="middle" textLength="55.4" lengthAdjust="spacingAndGlyphs">Relative expression</text>
<rect x="410.1" y="238" width="12.3" height="7.9" fill="#c8203a"/>
<rect x="410.1" y="253.5" width="12.3" height="7.9" fill="#0f4f7f"/>
<text x="425.8" y="245.1" font-size="7.2" font-style="italic">Sbds<tspan font-size="4.18" dy="-2.8">f/f</tspan></text>
<text x="425.8" y="259.9" font-size="7.2" font-style="italic">Mx1<tspan font-size="4.18" dy="-2.8">Cre</tspan><tspan dy="2.8"> Sbds</tspan><tspan font-size="4.18" dy="-2.8">Exc</tspan></text>
</svg></div></body></html>
